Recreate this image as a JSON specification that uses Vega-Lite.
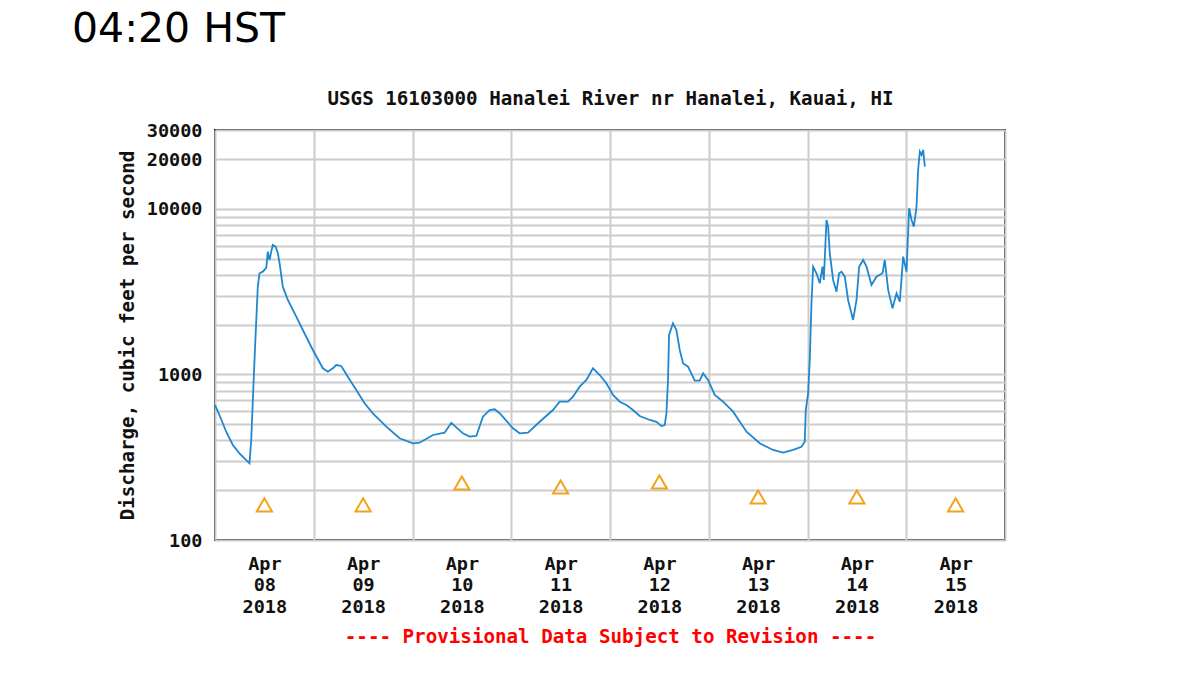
{
  "$schema": "https://vega.github.io/schema/vega-lite/v6.json",
  "width": 790,
  "height": 410,
  "autosize": {"type": "none"},
  "padding": {"left": 215, "top": 130, "right": 195, "bottom": 135},
  "background": "white",
  "title": {
    "text": "04:20 HST",
    "anchor": "start",
    "frame": "group",
    "dx": -143,
    "offset": 38,
    "font": "DejaVu Sans",
    "fontSize": 41,
    "fontWeight": "normal",
    "color": "#000000"
  },
  "config": {
    "view": {"stroke": "#222222", "strokeWidth": 2},
    "axis": {
      "labelFont": "DejaVu Sans Mono",
      "labelFontWeight": "bold",
      "labelFontSize": 18.5,
      "labelColor": "#111111",
      "titleFont": "DejaVu Sans Mono",
      "titleFontWeight": "bold",
      "titleFontSize": 19.2,
      "titleColor": "#111111",
      "gridColor": "#cccccc",
      "gridWidth": 2,
      "gridOpacity": 1,
      "domain": false,
      "ticks": false
    }
  },
  "datasets": {
    "flow": [
      {"t": "2018-04-08T00:00", "q": 654},
      {"t": "2018-04-08T01:05", "q": 569},
      {"t": "2018-04-08T02:43", "q": 451},
      {"t": "2018-04-08T04:20", "q": 375},
      {"t": "2018-04-08T05:57", "q": 334},
      {"t": "2018-04-08T07:35", "q": 304},
      {"t": "2018-04-08T08:23", "q": 291},
      {"t": "2018-04-08T08:48", "q": 402},
      {"t": "2018-04-08T09:36", "q": 1224},
      {"t": "2018-04-08T10:24", "q": 3393},
      {"t": "2018-04-08T10:49", "q": 4088},
      {"t": "2018-04-08T11:37", "q": 4181},
      {"t": "2018-04-08T12:27", "q": 4400},
      {"t": "2018-04-08T12:50", "q": 5521},
      {"t": "2018-04-08T13:15", "q": 4918},
      {"t": "2018-04-08T13:40", "q": 5521},
      {"t": "2018-04-08T14:03", "q": 6060},
      {"t": "2018-04-08T14:43", "q": 5918},
      {"t": "2018-04-08T15:16", "q": 5422},
      {"t": "2018-04-08T15:41", "q": 4717},
      {"t": "2018-04-08T16:29", "q": 3393},
      {"t": "2018-04-08T17:42", "q": 2820},
      {"t": "2018-04-08T19:45", "q": 2235},
      {"t": "2018-04-08T21:21", "q": 1857},
      {"t": "2018-04-08T23:47", "q": 1406},
      {"t": "2018-04-09T02:13", "q": 1090},
      {"t": "2018-04-09T03:26", "q": 1040},
      {"t": "2018-04-09T04:39", "q": 1090},
      {"t": "2018-04-09T05:28", "q": 1141},
      {"t": "2018-04-09T06:41", "q": 1126},
      {"t": "2018-04-09T08:17", "q": 970},
      {"t": "2018-04-09T10:20", "q": 806},
      {"t": "2018-04-09T12:21", "q": 670},
      {"t": "2018-04-09T14:22", "q": 583},
      {"t": "2018-04-09T17:38", "q": 484},
      {"t": "2018-04-09T20:52", "q": 412},
      {"t": "2018-04-10T00:06", "q": 384},
      {"t": "2018-04-10T01:44", "q": 387},
      {"t": "2018-04-10T04:58", "q": 431},
      {"t": "2018-04-10T07:48", "q": 445},
      {"t": "2018-04-10T09:26", "q": 511},
      {"t": "2018-04-10T12:15", "q": 441},
      {"t": "2018-04-10T13:53", "q": 421},
      {"t": "2018-04-10T15:31", "q": 425},
      {"t": "2018-04-10T17:07", "q": 556},
      {"t": "2018-04-10T18:45", "q": 610},
      {"t": "2018-04-10T19:58", "q": 616},
      {"t": "2018-04-10T21:11", "q": 583},
      {"t": "2018-04-11T00:25", "q": 473},
      {"t": "2018-04-11T02:02", "q": 441},
      {"t": "2018-04-11T04:04", "q": 445},
      {"t": "2018-04-11T06:55", "q": 518},
      {"t": "2018-04-11T10:08", "q": 610},
      {"t": "2018-04-11T11:46", "q": 685},
      {"t": "2018-04-11T13:47", "q": 685},
      {"t": "2018-04-11T15:00", "q": 734},
      {"t": "2018-04-11T16:38", "q": 844},
      {"t": "2018-04-11T18:16", "q": 926},
      {"t": "2018-04-11T19:52", "q": 1090},
      {"t": "2018-04-11T21:30", "q": 993},
      {"t": "2018-04-11T23:07", "q": 885},
      {"t": "2018-04-12T00:44", "q": 752},
      {"t": "2018-04-12T02:22", "q": 685},
      {"t": "2018-04-12T03:59", "q": 654},
      {"t": "2018-04-12T05:35", "q": 610},
      {"t": "2018-04-12T07:13", "q": 561},
      {"t": "2018-04-12T09:39", "q": 531},
      {"t": "2018-04-12T11:17", "q": 518},
      {"t": "2018-04-12T12:30", "q": 488},
      {"t": "2018-04-12T13:18", "q": 495},
      {"t": "2018-04-12T13:43", "q": 583},
      {"t": "2018-04-12T14:06", "q": 926},
      {"t": "2018-04-12T14:21", "q": 1732},
      {"t": "2018-04-12T15:19", "q": 2039},
      {"t": "2018-04-12T16:08", "q": 1857},
      {"t": "2018-04-12T16:57", "q": 1406},
      {"t": "2018-04-12T17:45", "q": 1169},
      {"t": "2018-04-12T18:58", "q": 1115},
      {"t": "2018-04-12T20:36", "q": 917},
      {"t": "2018-04-12T21:49", "q": 917},
      {"t": "2018-04-12T22:37", "q": 1017},
      {"t": "2018-04-12T23:50", "q": 926},
      {"t": "2018-04-13T01:28", "q": 752},
      {"t": "2018-04-13T03:29", "q": 685},
      {"t": "2018-04-13T05:55", "q": 596},
      {"t": "2018-04-13T09:10", "q": 451},
      {"t": "2018-04-13T12:24", "q": 384},
      {"t": "2018-04-13T15:38", "q": 350},
      {"t": "2018-04-13T18:04", "q": 337},
      {"t": "2018-04-13T20:30", "q": 350},
      {"t": "2018-04-13T22:32", "q": 366},
      {"t": "2018-04-13T23:20", "q": 393},
      {"t": "2018-04-13T23:35", "q": 610},
      {"t": "2018-04-14T00:09", "q": 770},
      {"t": "2018-04-14T00:34", "q": 1253},
      {"t": "2018-04-14T00:58", "q": 2693},
      {"t": "2018-04-14T01:22", "q": 4481},
      {"t": "2018-04-14T02:11", "q": 4088},
      {"t": "2018-04-14T02:59", "q": 3557},
      {"t": "2018-04-14T03:39", "q": 4481},
      {"t": "2018-04-14T03:58", "q": 3724},
      {"t": "2018-04-14T04:37", "q": 8580},
      {"t": "2018-04-14T05:01", "q": 7818},
      {"t": "2018-04-14T05:25", "q": 5399},
      {"t": "2018-04-14T06:14", "q": 3724},
      {"t": "2018-04-14T07:03", "q": 3165},
      {"t": "2018-04-14T07:41", "q": 4088},
      {"t": "2018-04-14T08:16", "q": 4181},
      {"t": "2018-04-14T09:04", "q": 3899},
      {"t": "2018-04-14T09:52", "q": 2820},
      {"t": "2018-04-14T11:05", "q": 2135},
      {"t": "2018-04-14T11:55", "q": 2820},
      {"t": "2018-04-14T12:33", "q": 4481},
      {"t": "2018-04-14T13:31", "q": 4918},
      {"t": "2018-04-14T14:21", "q": 4481},
      {"t": "2018-04-14T15:33", "q": 3474},
      {"t": "2018-04-14T16:46", "q": 3899},
      {"t": "2018-04-14T18:14", "q": 4088},
      {"t": "2018-04-14T18:47", "q": 4918},
      {"t": "2018-04-14T19:36", "q": 3241},
      {"t": "2018-04-14T20:40", "q": 2512},
      {"t": "2018-04-14T21:38", "q": 3095},
      {"t": "2018-04-14T22:26", "q": 2754},
      {"t": "2018-04-14T23:15", "q": 5150},
      {"t": "2018-04-15T00:04", "q": 4181},
      {"t": "2018-04-15T00:42", "q": 10100},
      {"t": "2018-04-15T01:17", "q": 8580},
      {"t": "2018-04-15T01:51", "q": 7818},
      {"t": "2018-04-15T02:30", "q": 10325},
      {"t": "2018-04-15T02:53", "q": 17200},
      {"t": "2018-04-15T03:18", "q": 22190},
      {"t": "2018-04-15T03:43", "q": 21200},
      {"t": "2018-04-15T04:07", "q": 22730},
      {"t": "2018-04-15T04:31", "q": 18010}
    ],
    "median": [
      {"t": "2018-04-08T12:00", "q": 163},
      {"t": "2018-04-09T12:00", "q": 163},
      {"t": "2018-04-10T12:00", "q": 221},
      {"t": "2018-04-11T12:00", "q": 209},
      {"t": "2018-04-12T12:00", "q": 224},
      {"t": "2018-04-13T12:00", "q": 182},
      {"t": "2018-04-14T12:00", "q": 182},
      {"t": "2018-04-15T12:00", "q": 163}
    ]
  },
  "layer": [
    {
      "data": {"name": "flow"},
      "mark": {"type": "line", "color": "#1f87d0", "strokeWidth": 1.8, "interpolate": "linear"},
      "encoding": {
        "x": {
          "field": "t",
          "type": "temporal",
          "scale": {"domain": [{"year": 2018, "month": 4, "date": 8}, {"year": 2018, "month": 4, "date": 16}], "nice": false},
          "axis": {
            "orient": "bottom",
            "values": [
              {"year": 2018, "month": 4, "date": 8},
              {"year": 2018, "month": 4, "date": 9},
              {"year": 2018, "month": 4, "date": 10},
              {"year": 2018, "month": 4, "date": 11},
              {"year": 2018, "month": 4, "date": 12},
              {"year": 2018, "month": 4, "date": 13},
              {"year": 2018, "month": 4, "date": 14},
              {"year": 2018, "month": 4, "date": 15},
              {"year": 2018, "month": 4, "date": 16}
            ],
            "grid": true,
            "labelOffset": 49.375,
            "labelPadding": 14,
            "labelLineHeight": 21.5,
            "labelOverlap": false,
            "labelBound": false,
            "labelFlush": false,
            "labelExpr": "timeFormat(datum.value, '%d') == '16' ? '' : [timeFormat(datum.value, '%b'), timeFormat(datum.value, '%d'), timeFormat(datum.value, '%Y')]",
            "title": "---- Provisional Data Subject to Revision ----",
            "titleColor": "#ff0000",
            "titlePadding": 12
          }
        },
        "y": {
          "field": "q",
          "type": "quantitative",
          "scale": {"type": "log", "domain": [100, 30000], "nice": false},
          "axis": {
            "values": [100, 200, 300, 400, 500, 600, 700, 800, 900, 1000, 2000, 3000, 4000, 5000, 6000, 7000, 8000, 9000, 10000, 20000, 30000],
            "labelExpr": "indexof([100, 1000, 10000, 20000, 30000], datum.value) >= 0 ? format(datum.value, 'd') : ''",
            "labelPadding": 13,
            "labelOverlap": false,
            "labelBound": false,
            "labelFlush": false,
            "grid": true,
            "title": "Discharge, cubic feet per second",
            "titlePadding": 9
          }
        }
      }
    },
    {
      "data": {"name": "median"},
      "mark": {"type": "point", "shape": "triangle-up", "filled": false, "color": "#f5a21b", "strokeWidth": 2, "size": 230, "opacity": 1},
      "encoding": {
        "x": {
          "field": "t",
          "type": "temporal",
          "scale": {"domain": [{"year": 2018, "month": 4, "date": 8}, {"year": 2018, "month": 4, "date": 16}], "nice": false},
          "axis": {
            "orient": "top",
            "labels": false,
            "grid": false,
            "title": "USGS 16103000 Hanalei River nr Hanalei, Kauai, HI",
            "titlePadding": 22
          }
        },
        "y": {"field": "q", "type": "quantitative"}
      }
    }
  ],
  "resolve": {"axis": {"x": "independent"}}
}
